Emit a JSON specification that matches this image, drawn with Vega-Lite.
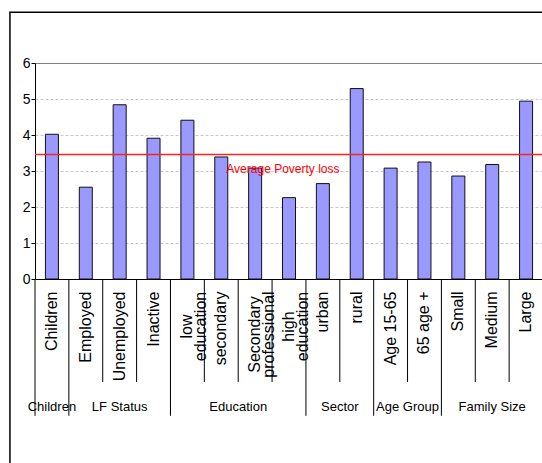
{
  "$schema": "https://vega.github.io/schema/vega-lite/v6.json",
  "width": 508,
  "height": 216,
  "autosize": {"type": "none"},
  "padding": {"left": 35, "top": 63, "right": 0, "bottom": 184},
  "background": "white",
  "config": {
    "view": {"stroke": null},
    "font": "Liberation Sans",
    "axisY": {
      "tickSize": 4,
      "tickColor": "black",
      "domainColor": "black",
      "labelFontSize": 14,
      "labelColor": "black",
      "labelPadding": 1,
      "labelOverlap": false
    }
  },
  "datasets": {
    "losses": [
      {"category": "Children", "group": "Children", "value": 4.02},
      {"category": "Employed", "group": "LF Status", "value": 2.55},
      {"category": "Unemployed", "group": "LF Status", "value": 4.84},
      {"category": "Inactive", "group": "LF Status", "value": 3.91},
      {"category": "low education", "group": "Education", "value": 4.41},
      {"category": "secondary", "group": "Education", "value": 3.39},
      {"category": "Secondary professional", "group": "Education", "value": 3.08},
      {"category": "high education", "group": "Education", "value": 2.26},
      {"category": "urban", "group": "Sector", "value": 2.65},
      {"category": "rural", "group": "Sector", "value": 5.29},
      {"category": "Age 15-65", "group": "Age Group", "value": 3.08},
      {"category": "65 age +", "group": "Age Group", "value": 3.25},
      {"category": "Small", "group": "Family Size", "value": 2.86},
      {"category": "Medium", "group": "Family Size", "value": 3.18},
      {"category": "Large", "group": "Family Size", "value": 4.94}
    ],
    "average": [
      {"label": "Average Poverty loss", "value": 3.46}
    ]
  },
  "data": {"name": "losses"},
  "layer": [
    {
      "mark": {"type": "bar", "size": 13, "fill": "#9999ff", "stroke": "#111111", "strokeWidth": 1},
      "encoding": {
        "x": {
          "field": "category",
          "type": "nominal",
          "sort": null,
          "scale": {"paddingInner": 0, "paddingOuter": 0},
          "axis": {
            "title": null,
            "ticks": false,
            "domainColor": "black",
            "domainWidth": 1,
            "labelAngle": -90,
            "labelFontSize": 16,
            "labelColor": "black",
            "labelLineHeight": 14,
            "labelLimit": 0,
            "labelOverlap": false,
            "labelBound": false,
            "labelBaseline": "middle",
            "labelExpr": "indexof(['low education', 'Secondary professional', 'high education'], datum.value) >= 0 ? split(datum.value, ' ') : datum.value",
            "labelAlign": {
              "condition": {"test": "indexof(['low education', 'Secondary professional', 'high education'], datum.value) >= 0", "value": "center"},
              "value": "right"
            },
            "labelPadding": {
              "condition": [
                {"test": "datum.value === 'Secondary professional'", "value": 55},
                {"test": "datum.value === 'low education' || datum.value === 'high education'", "value": 47}
              ],
              "value": 12
            }
          }
        },
        "y": {
          "field": "value",
          "type": "quantitative",
          "scale": {"domain": [0, 6], "nice": false},
          "axis": {
            "title": null,
            "values": [0, 1, 2, 3, 4, 5, 6],
            "gridColor": {"condition": {"test": "datum.value === 6", "value": "#808080"}, "value": "#c8c8c8"},
            "gridDash": {"condition": {"test": "datum.value === 6", "value": []}, "value": [3, 2]}
          }
        }
      }
    },
    {
      "transform": [
        {"window": [{"op": "row_number", "as": "rank"}], "groupby": ["group"]},
        {"filter": "datum.rank > 1"}
      ],
      "mark": {"type": "rule", "color": "black", "strokeWidth": 1},
      "encoding": {
        "x": {"field": "category", "type": "nominal", "sort": null, "bandPosition": 0},
        "y": {
          "datum": 0,
          "type": "quantitative",
          "axis": {
            "title": null,
            "values": [0, 1, 2, 3, 4, 5, 6],
            "gridColor": {"condition": {"test": "datum.value === 6", "value": "#808080"}, "value": "#c8c8c8"},
            "gridDash": {"condition": {"test": "datum.value === 6", "value": []}, "value": [3, 2]}
          }
        },
        "y2": {"datum": -2.86}
      }
    },
    {
      "transform": [
        {"window": [{"op": "row_number", "as": "rank"}], "groupby": ["group"]},
        {"filter": "datum.rank === 1"}
      ],
      "mark": {"type": "rule", "color": "black", "strokeWidth": 1},
      "encoding": {
        "x": {"field": "category", "type": "nominal", "sort": null, "bandPosition": 0},
        "y": {
          "datum": 0,
          "type": "quantitative",
          "axis": {
            "title": null,
            "values": [0, 1, 2, 3, 4, 5, 6],
            "gridColor": {"condition": {"test": "datum.value === 6", "value": "#808080"}, "value": "#c8c8c8"},
            "gridDash": {"condition": {"test": "datum.value === 6", "value": []}, "value": [3, 2]}
          }
        },
        "y2": {"datum": -3.8}
      }
    },
    {
      "transform": [
        {"window": [{"op": "row_number", "as": "rank"}], "groupby": ["group"]},
        {"joinaggregate": [{"op": "count", "as": "size"}], "groupby": ["group"]},
        {"filter": "datum.rank === floor(datum.size / 2) + 1 && datum.size % 2 === 1"}
      ],
      "mark": {"type": "text", "fontSize": 13, "color": "black", "align": "center", "baseline": "alphabetic"},
      "encoding": {
        "x": {"field": "category", "type": "nominal", "sort": null, "bandPosition": 0.5},
        "y": {
          "datum": -3.67,
          "type": "quantitative",
          "axis": {
            "title": null,
            "values": [0, 1, 2, 3, 4, 5, 6],
            "gridColor": {"condition": {"test": "datum.value === 6", "value": "#808080"}, "value": "#c8c8c8"},
            "gridDash": {"condition": {"test": "datum.value === 6", "value": []}, "value": [3, 2]}
          }
        },
        "text": {"field": "group"}
      }
    },
    {
      "transform": [
        {"window": [{"op": "row_number", "as": "rank"}], "groupby": ["group"]},
        {"joinaggregate": [{"op": "count", "as": "size"}], "groupby": ["group"]},
        {"filter": "datum.rank === floor(datum.size / 2) + 1 && datum.size % 2 === 0"}
      ],
      "mark": {"type": "text", "fontSize": 13, "color": "black", "align": "center", "baseline": "alphabetic"},
      "encoding": {
        "x": {"field": "category", "type": "nominal", "sort": null, "bandPosition": 0},
        "y": {
          "datum": -3.67,
          "type": "quantitative",
          "axis": {
            "title": null,
            "values": [0, 1, 2, 3, 4, 5, 6],
            "gridColor": {"condition": {"test": "datum.value === 6", "value": "#808080"}, "value": "#c8c8c8"},
            "gridDash": {"condition": {"test": "datum.value === 6", "value": []}, "value": [3, 2]}
          }
        },
        "text": {"field": "group"}
      }
    },
    {
      "data": {"name": "average"},
      "mark": {"type": "rule", "color": "#ff2020", "strokeWidth": 1.5},
      "encoding": {
        "y": {
          "field": "value",
          "type": "quantitative",
          "axis": {
            "title": null,
            "values": [0, 1, 2, 3, 4, 5, 6],
            "gridColor": {"condition": {"test": "datum.value === 6", "value": "#808080"}, "value": "#c8c8c8"},
            "gridDash": {"condition": {"test": "datum.value === 6", "value": []}, "value": [3, 2]}
          }
        }
      }
    },
    {
      "data": {"name": "average"},
      "mark": {"type": "text", "fontSize": 12, "color": "#ff0000", "align": "center", "baseline": "alphabetic", "dy": 19},
      "encoding": {
        "x": {"datum": "high education", "type": "nominal", "bandPosition": 0.32},
        "y": {
          "field": "value",
          "type": "quantitative",
          "axis": {
            "title": null,
            "values": [0, 1, 2, 3, 4, 5, 6],
            "gridColor": {"condition": {"test": "datum.value === 6", "value": "#808080"}, "value": "#c8c8c8"},
            "gridDash": {"condition": {"test": "datum.value === 6", "value": []}, "value": [3, 2]}
          }
        },
        "text": {"field": "label"}
      }
    },
    {
      "data": {"values": [{"frame": "chart area"}]},
      "mark": {"type": "rect", "fill": "transparent", "stroke": "black", "strokeWidth": 1.5},
      "encoding": {
        "x": {"datum": "Children", "type": "nominal", "bandPosition": -0.74},
        "x2": {"datum": "Large", "bandPosition": 2},
        "y": {
          "datum": 7.41,
          "type": "quantitative",
          "axis": {
            "title": null,
            "values": [0, 1, 2, 3, 4, 5, 6],
            "gridColor": {"condition": {"test": "datum.value === 6", "value": "#808080"}, "value": "#c8c8c8"},
            "gridDash": {"condition": {"test": "datum.value === 6", "value": []}, "value": [3, 2]}
          }
        },
        "y2": {"datum": -6}
      }
    }
  ]
}
